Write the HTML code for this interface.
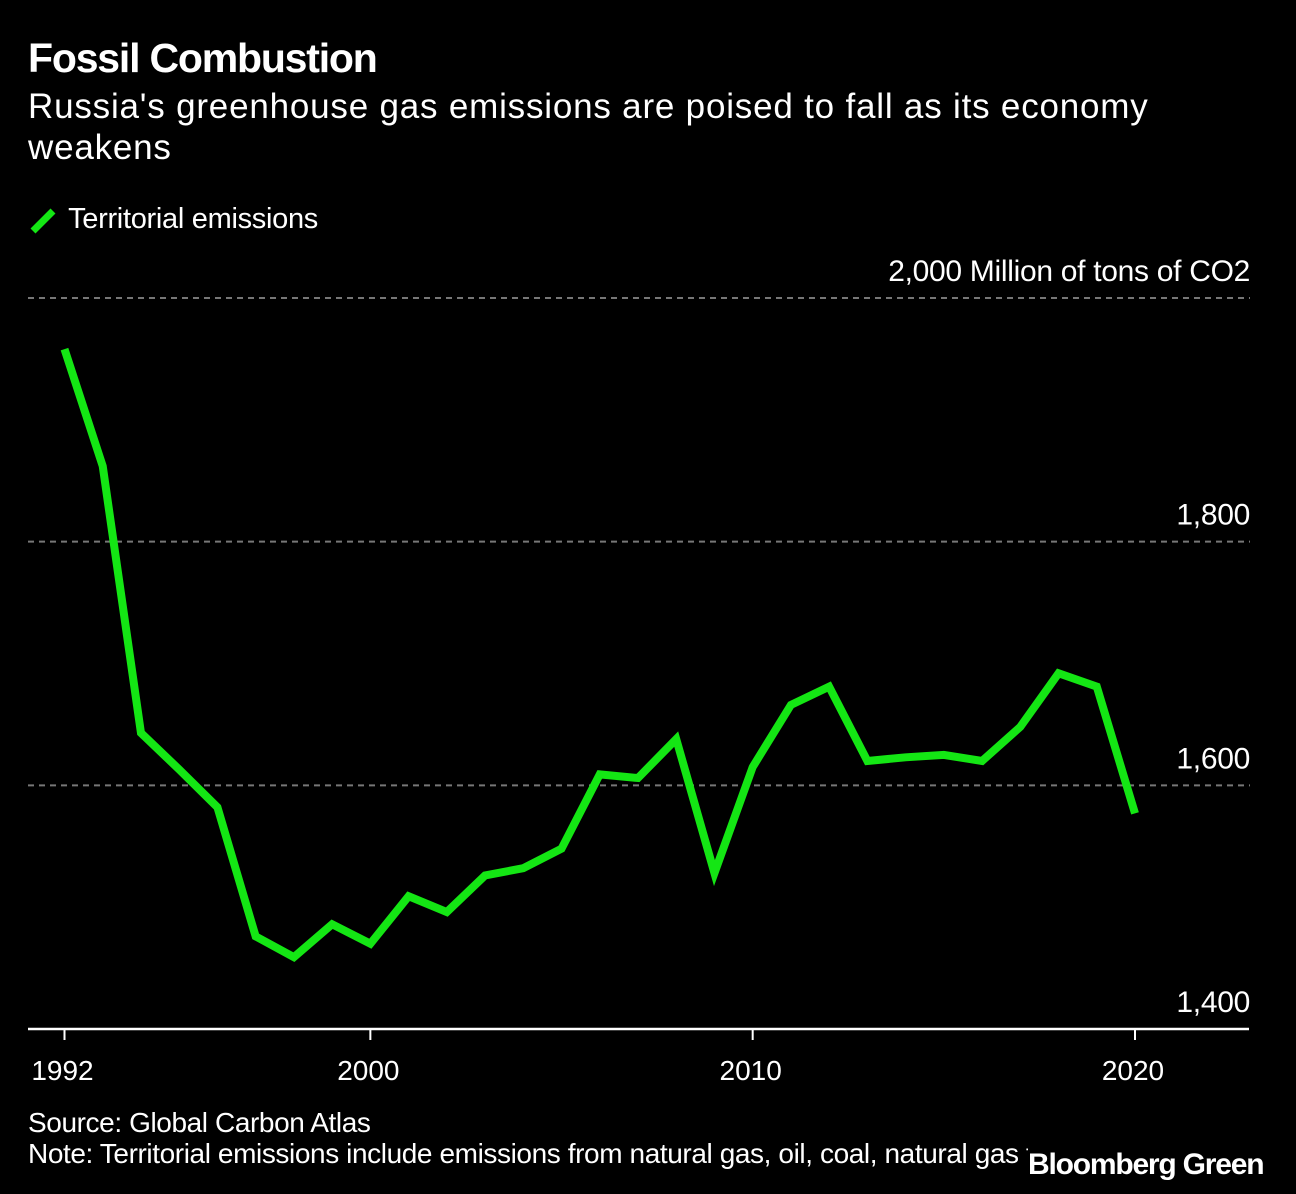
<!DOCTYPE html>
<html><head><meta charset="utf-8"><style>
body{margin:0;background:#000;width:1296px;height:1194px;overflow:hidden;font-family:"Liberation Sans",sans-serif;color:#fff}
.t{position:absolute;white-space:nowrap}
</style></head><body>
<div class="t" style="left:28px;top:35px;font-size:41px;font-weight:bold;letter-spacing:-1.2px">Fossil Combustion</div>
<div class="t" style="left:28px;top:86px;font-size:35px;line-height:41px;white-space:normal;width:1175px;letter-spacing:0.8px">Russia's greenhouse gas emissions are poised to fall as its economy weakens</div>
<div class="t" style="left:28px;top:203px;font-size:29px">
<svg width="32" height="32" style="vertical-align:middle"><line x1="5" y1="27" x2="25" y2="7" stroke="#14e614" stroke-width="7"/></svg>
<span style="letter-spacing:-0.3px">Territorial emissions</span></div>
<svg id="chart" width="1296" height="1194" style="position:absolute;left:0;top:0"></svg>
<div class="t" style="left:28px;top:1107px;font-size:28px;letter-spacing:-0.4px">Source: Global Carbon Atlas</div>
<div class="t" style="left:28px;top:1138px;font-size:28px;letter-spacing:-0.4px;width:1000px;overflow:hidden">Note: Territorial emissions include emissions from natural gas, oil, coal, natural gas flaring</div>
<div class="t" style="left:1028px;top:1148px;font-size:30px;font-weight:bold;letter-spacing:-1.2px;background:#000">Bloomberg Green</div>
<script>
const years=[1992,1993,1994,1995,1996,1997,1998,1999,2000,2001,2002,2003,2004,2005,2006,2007,2008,2009,2010,2011,2012,2013,2014,2015,2016,2017,2018,2019,2020];
const emissions=[1958,1862,1643,1613,1582,1476,1459,1486,1470,1509,1496,1526,1532,1548,1609,1606,1638,1528,1615,1666,1681,1620,1623,1625,1620,1648,1692,1681,1577];
const yTicks=[1400,1600,1800,2000];
const yTickLabels=["1,400","1,600","1,800","2,000 Million of tons of CO2"];
const xTicks=[1992,2000,2010,2020];
const NS="http://www.w3.org/2000/svg";
const svg=document.getElementById('chart');
const x=v=>64.5+(v-1992)*(1135-64.5)/28;
const y=v=>1029-(v-1400)*(1029-298)/600;
function mk(t,a){const e=document.createElementNS(NS,t);for(const k in a)e.setAttribute(k,a[k]);svg.appendChild(e);return e;}
yTicks.forEach((v,i)=>{
 if(v>1400){const g=mk('line',{x1:28,x2:1250,y1:y(v),y2:y(v),stroke:'#777','stroke-width':2,'stroke-dasharray':'6,5'});
 
 }
 const t=mk('text',{x:1250,y:y(v)-17,'text-anchor':'end',fill:'#fff','font-size':30,'font-family':'Liberation Sans, sans-serif','letter-spacing':'-0.3'});
 t.textContent=yTickLabels[i];
 
 
});
const base=mk('line',{x1:28,x2:1249,y1:1029,y2:1029,stroke:'#fff','stroke-width':2.5});


xTicks.forEach(v=>{
 const tk=mk('line',{x1:x(v),x2:x(v),y1:1029,y2:1040,stroke:'#fff','stroke-width':2});
 
 
 const t=mk('text',{x:x(v)-2,y:1080,'text-anchor':'middle',fill:'#fff','font-size':28,'font-family':'Liberation Sans, sans-serif'});
 t.textContent=v;
 
 
});
const p=mk('polyline',{points:years.map((yr,i)=>x(yr)+','+y(emissions[i])).join(' '),fill:'none',stroke:'#14e614','stroke-width':8,'stroke-linejoin':'miter'});


</script>
</body></html>
